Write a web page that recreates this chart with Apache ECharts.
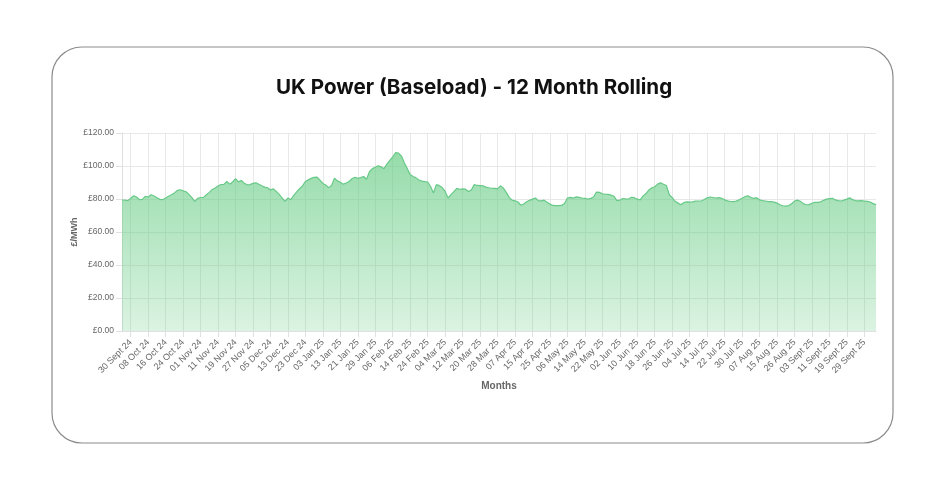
<!DOCTYPE html>
<html>
<head>
<meta charset="utf-8">
<script src="https://cdn.jsdelivr.net/npm/echarts@6/dist/echarts.min.js"></script>
<style>
html,body{margin:0;padding:0;background:#fff;}
#chart{width:940px;height:491px;}
</style>
</head>
<body>
<div id="chart"></div>
<script>
// ---- Data ----
const startDate = '2024-09-25';
const ukHolidays = ['2024-12-25','2024-12-26','2025-01-01','2025-04-18','2025-04-21','2025-05-05','2025-05-26','2025-08-25'];
const monthNames = ['Jan','Feb','Mar','Apr','May','Jun','Jul','Aug','Sept','Oct','Nov','Dec'];
const yTicks = [0, 20, 40, 60, 80, 100, 120];
const prices = [
79.4,79.3,79.0,80.5,82.0,81.2,79.6,79.8,81.6,81.2,
82.6,81.8,80.8,79.8,79.6,80.6,81.7,82.6,83.7,85.2,
85.6,84.9,84.4,82.8,80.8,78.6,80.4,80.9,81.0,82.6,
84.0,85.8,86.7,87.9,88.8,88.9,90.6,89.0,90.3,92.3,
90.4,91.2,89.6,88.6,88.7,89.5,89.8,88.9,88.0,87.2,
86.8,85.5,86.1,84.6,82.8,80.6,78.6,80.6,79.6,82.2,
84.3,86.2,88.0,90.6,91.6,92.5,93.1,93.2,91.4,89.4,
88.5,86.9,88.2,92.6,91.0,90.1,89.0,89.7,90.6,92.3,
93.2,92.5,93.0,93.6,92.0,96.5,98.4,99.2,100.1,99.5,
98.4,101.2,103.4,105.6,108.2,107.8,106.0,101.8,98.4,94.8,
93.6,92.8,91.5,90.8,90.5,90.3,87.6,83.6,88.7,88.1,
86.9,84.6,80.6,82.6,84.5,86.4,85.9,86.1,86.0,84.5,
85.4,88.7,88.2,88.1,88.0,87.2,86.8,86.5,86.4,86.1,
88.0,86.6,84.0,81.0,79.3,78.9,78.2,76.2,77.0,78.3,
79.2,79.9,80.6,79.0,78.9,79.3,78.1,76.9,76.1,76.0,
76.0,76.1,77.3,80.6,81.0,80.5,81.3,81.0,80.6,80.4,
80.0,80.4,81.2,84.2,84.0,83.2,82.9,82.8,82.4,81.6,
79.0,79.3,80.3,80.1,80.0,81.0,80.8,79.9,79.5,81.9,
83.3,85.5,86.8,87.4,89.0,89.8,88.9,88.2,82.6,80.8,
78.6,77.5,76.5,77.9,78.3,78.1,78.3,78.7,78.8,78.8,
79.7,80.7,81.2,80.9,80.6,80.8,80.4,79.5,78.9,78.5,
78.4,78.7,79.6,80.5,81.4,82.0,80.9,80.4,80.8,79.5,
79.0,78.8,78.4,78.4,78.1,77.5,76.5,75.9,75.7,76.0,
77.1,78.7,79.3,78.6,77.2,76.5,76.6,77.4,78.0,78.0,
78.3,79.2,79.9,80.2,80.4,79.5,79.0,78.8,79.3,79.9,
80.7,79.6,78.9,78.9,79.0,78.8,78.6,78.2,77.2,76.6
];

// categories: UK business days starting at startDate, one per price
const categories = [];
(function(){
  const d = new Date(startDate + 'T00:00:00Z');
  while (categories.length < prices.length) {
    const iso = d.toISOString().slice(0,10);
    const wd = d.getUTCDay();
    if (wd !== 0 && wd !== 6 && ukHolidays.indexOf(iso) === -1) {
      const dd = String(d.getUTCDate()).padStart(2,'0');
      const yy = String(d.getUTCFullYear()).slice(2);
      categories.push(dd + ' ' + monthNames[d.getUTCMonth()] + ' ' + yy);
    }
    d.setUTCDate(d.getUTCDate() + 1);
  }
})();

const showTick = (idx) => idx >= 3 && (idx - 3) % 6 === 0;

const chart = echarts.init(document.getElementById('chart'), null, {renderer:'canvas'});
chart.setOption({
  animation: false,
  backgroundColor: '#fff',
  graphic: [{
    type: 'rect', z: -10, silent: true,
    shape: {x: 52, y: 47, width: 841, height: 396, r: 30},
    style: {fill: '#fff', stroke: '#8c8c8c', lineWidth: 1.2}
  }],
  title: {
    text: 'UK Power (Baseload) - 12 Month Rolling',
    left: 271, top: 72,
    textStyle: {fontFamily: 'Inter', fontWeight: 700, fontSize: 20.6, color: '#111'}
  },
  grid: {left: 122, right: 64, top: 133, bottom: 160, containLabel: false},
  xAxis: {
    type: 'category',
    data: categories,
    boundaryGap: false,
    name: 'Months',
    nameLocation: 'middle',
    nameGap: 50,
    nameTextStyle: {fontFamily: 'Arial, Liberation Sans', fontWeight: 'bold', fontSize: 10, color: '#666'},
    axisLine: {show: true, lineStyle: {color: '#e0e0e0'}},
    axisTick: {show: true, interval: showTick, length: 6, lineStyle: {color: '#e0e0e0'}},
    axisLabel: {
      interval: showTick, rotate: 45, margin: 10,
      fontFamily: 'Arial, Liberation Sans', fontSize: 9, color: '#666'
    },
    splitLine: {show: true, interval: showTick, lineStyle: {color: '#e8e8e8'}}
  },
  yAxis: {
    type: 'value',
    min: 0, max: 120, interval: 20,
    name: '£/MWh',
    nameLocation: 'middle',
    nameGap: 43,
    nameRotate: 90,
    nameMoveOverlap: false,
    nameTextStyle: {fontFamily: 'Arial, Liberation Sans', fontWeight: 'bold', fontSize: 9, color: '#666'},
    axisLine: {show: true, lineStyle: {color: '#e0e0e0'}},
    axisTick: {show: true, length: 6, lineStyle: {color: '#e0e0e0'}},
    axisLabel: {
      margin: 8,
      fontFamily: 'Arial, Liberation Sans', fontSize: 8.5, color: '#666',
      formatter: (v) => '£' + v.toFixed(2)
    },
    splitLine: {show: true, lineStyle: {color: '#e8e8e8'}}
  },
  series: [{
    type: 'line',
    data: prices,
    symbol: 'none',
    smooth: false,
    lineStyle: {color: '#67c987', width: 1.2},
    areaStyle: {
      color: new echarts.graphic.LinearGradient(0, 0, 0, 1, [
        {offset: 0, color: 'rgba(100,203,130,0.97)'},
        {offset: 1, color: 'rgba(100,203,130,0.33)'}
      ]),
      origin: 'start'
    }
  }]
});
</script>
</body>
</html>
